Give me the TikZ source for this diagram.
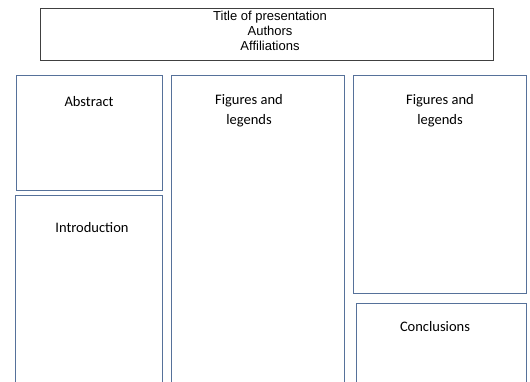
\documentclass[tikz,border=0pt]{standalone}
\usepackage{fontspec}
\setmainfont{Carlito}
\newfontfamily\arialfont{Liberation Sans}
\definecolor{panelblue}{HTML}{56719A}
\definecolor{titlegray}{HTML}{404040}
\begin{document}
\begin{tikzpicture}[x=1pt,y=-1pt,
  panel/.style={draw=panelblue, line width=0.9pt, fill=white},
  titlebox/.style={draw=titlegray, line width=0.9pt},
  paneltext/.style={font=\fontsize{14.5}{20}\selectfont, align=center, inner sep=0pt, text=black},
  titletext/.style={font=\arialfont\fontsize{13}{15}\selectfont, align=center, inner sep=0pt, text=black}]
\useasboundingbox (0,0) rectangle (530,381);
\fill[white] (0,0) rectangle (530,381);
\begin{scope}
\clip (0,0) rectangle (530,381);
\draw[titlebox] (40.5,8.5) rectangle (493,60);
\node[titletext] (title) at (270,31) {Title of presentation\\Authors\\Affiliations};
\draw[panel] (16,75) rectangle (162.5,190);
\node[paneltext] (abs) at (89,102) {Abstract};
\draw[panel] (15.5,195.5) rectangle (162,400);
\node[paneltext] (intro) at (92,228) {Introduction};
\draw[panel] (171.5,75) rectangle (344,400);
\node[paneltext] (fig1) at (249,111) {Figures and\\legends};
\draw[panel] (353.5,75) rectangle (526.5,293);
\node[paneltext] (fig2) at (440,111) {Figures and\\legends};
\draw[panel] (356.5,303) rectangle (526,400);
\node[paneltext] (concl) at (435,327) {Conclusions};
\end{scope}
\end{tikzpicture}
\end{document}
